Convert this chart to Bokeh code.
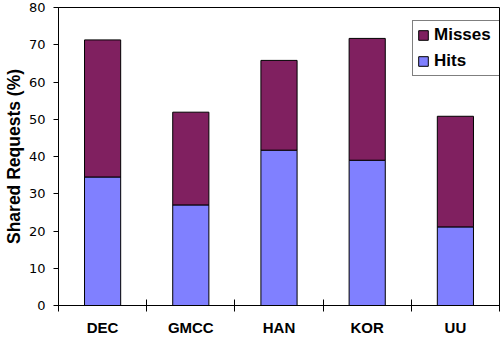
from bokeh.plotting import figure
from bokeh.models import Range1d, FixedTicker, Legend, LegendItem, ColumnDataSource, Title
from bokeh.embed import file_html
from bokeh.resources import INLINE

categories = ["DEC", "GMCC", "HAN", "KOR", "UU"]
hits = [34.5, 27.0, 41.7, 39.0, 21.1]
misses = [36.8, 24.9, 24.1, 32.7, 29.7]
y_ticks = [0, 10, 20, 30, 40, 50, 60, 70, 80]

MISS_COLOR = "#802060"
HIT_COLOR = "#8080FF"

xpos = [i + 0.5 for i in range(len(categories))]
src = ColumnDataSource(dict(x=xpos, Hits=hits, Misses=misses))

p = figure(width=501, height=338, output_backend="svg", toolbar_location=None,
           x_range=Range1d(0, len(categories)), y_range=Range1d(0, 80),
           min_border_left=58, min_border_right=2, min_border_top=7, min_border_bottom=32)

renderers = p.vbar_stack(["Hits", "Misses"], x="x", width=0.41, source=src,
                         fill_color=[HIT_COLOR, MISS_COLOR], line_color="black", line_width=1)

p.xgrid.visible = False
p.ygrid.visible = False
p.outline_line_color = "black"
p.outline_line_width = 1
p.background_fill_color = "white"
p.border_fill_color = "white"

# x axis
xa = p.xaxis[0]
xa.ticker = FixedTicker(ticks=xpos, minor_ticks=list(range(len(categories) + 1)))
xa.major_label_overrides = {x: c for x, c in zip(xpos, categories)}
xa.major_tick_in = 0
xa.major_tick_out = 0
xa.minor_tick_in = 6
xa.minor_tick_out = 6
xa.minor_tick_line_color = "black"
xa.axis_line_color = "black"
xa.major_label_standoff = 7
xa.major_label_text_font = "Liberation Sans"
xa.major_label_text_font_style = "bold"
xa.major_label_text_font_size = "15px"
xa.major_label_text_color = "black"

# y axis
ya = p.yaxis[0]
ya.ticker = FixedTicker(ticks=y_ticks)
ya.major_tick_in = 0
ya.major_tick_out = 5
ya.minor_tick_line_color = None
ya.axis_line_color = "black"
ya.major_tick_line_color = "black"
ya.major_label_standoff = 8
ya.major_label_text_font = "DejaVu Sans"
ya.major_label_text_font_size = "13px"
ya.major_label_text_color = "black"

ytitle = Title(text="Shared Requests (%)", align="center", offset=0, standoff=3,
               text_font="Liberation Sans", text_font_style="bold",
               text_font_size="17.5px", text_color="black")
p.add_layout(ytitle, "left")

legend = Legend(items=[LegendItem(label="Misses", renderers=[renderers[1]]),
                       LegendItem(label="Hits", renderers=[renderers[0]])],
                location=(354, 229), orientation="vertical",
                border_line_color="black", border_line_width=1,
                background_fill_color="white", background_fill_alpha=1,
                padding=4, spacing=6, margin=0,
                glyph_width=12, glyph_height=12, label_height=20, label_width=61,
                label_standoff=5,
                label_text_font="Liberation Sans", label_text_font_style="bold",
                label_text_font_size="17px", label_text_color="black")
p.add_layout(legend, "center")

open("out.html", "w").write(file_html(p, INLINE))
